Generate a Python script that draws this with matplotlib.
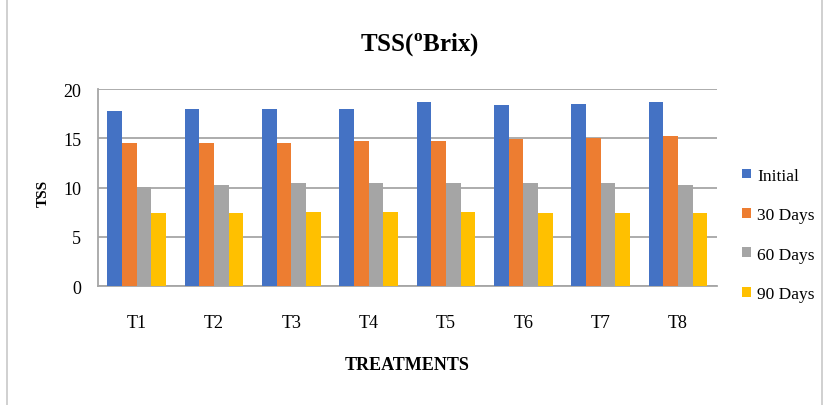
import numpy as np
import matplotlib
matplotlib.use('Agg')
import matplotlib.pyplot as plt
from matplotlib.patches import Rectangle

plt.rcParams['font.family'] = ['Liberation Serif', 'DejaVu Serif']
plt.rcParams['mathtext.fontset'] = 'custom'
plt.rcParams['mathtext.rm'] = 'Liberation Serif'
plt.rcParams['mathtext.bf'] = 'Liberation Serif:bold'

treatments = ['T1', 'T2', 'T3', 'T4', 'T5', 'T6', 'T7', 'T8']
series_names = ['Initial', '30 Days', '60 Days', '90 Days']
initial = [17.8, 18.0, 18.0, 18.0, 18.7, 18.4, 18.5, 18.7]
days_30 = [14.5, 14.5, 14.5, 14.7, 14.7, 14.9, 15.0, 15.2]
days_60 = [10.1, 10.3, 10.5, 10.5, 10.5, 10.5, 10.5, 10.3]
days_90 = [7.4, 7.4, 7.5, 7.5, 7.5, 7.4, 7.4, 7.4]
colors = ['#4472c4', '#ed7d31', '#a5a5a5', '#ffc000']

fig = plt.figure(figsize=(8.27, 4.06), dpi=100)
ax = fig.add_axes([0.1185, 0.293, 0.748, 0.485])

# light border round the whole chart
fig.patches.append(Rectangle((0.009, -0.01), 0.985, 1.02, transform=fig.transFigure,
                             fill=False, edgecolor='#c8c8c8', linewidth=1.2))

x = np.arange(len(treatments))
width = 0.19
for i, (name, vals) in enumerate(zip(series_names, [initial, days_30, days_60, days_90])):
    ax.bar(x + (i - 1.5) * width, vals, width=width, color=colors[i], label=name, zorder=3)

ax.set_xlim(-0.5, len(treatments) - 0.5)
ax.set_ylim(0, 20)
ax.set_yticks([0, 5, 10, 15, 20])
ax.set_xticks(x)
ax.set_xticklabels(treatments)
ax.yaxis.grid(True, color='#a6a6a6', linewidth=1.3, zorder=0)
for s in ['top', 'right']:
    ax.spines[s].set_visible(False)
for s in ['bottom', 'left']:
    ax.spines[s].set_color('#a6a6a6')
    ax.spines[s].set_linewidth(1.3)
ax.tick_params(axis='both', length=0, labelsize=13, colors='#000000')
ax.tick_params(axis='x', pad=20)
ax.tick_params(axis='y', pad=12)

fig.text(0.5075, 0.889, r'TSS($^{\mathbf{o}}$Brix)', fontsize=18, fontweight='bold',
         ha='center', va='center')
ax.set_xlabel('TREATMENTS', fontsize=13, fontweight='bold')
ax.xaxis.set_label_coords(0.5, -0.355)
ax.set_ylabel('TSS', fontsize=11, fontweight='bold')
ax.yaxis.set_label_coords(-0.078, 0.477)

ax.legend(loc='center left', bbox_to_anchor=(1.03, 0.26), borderaxespad=0, frameon=False,
          fontsize=12.5, handlelength=0.5, handleheight=0.5, handletextpad=0.35,
          labelspacing=1.35)

fig.savefig('out.png', dpi=100)
